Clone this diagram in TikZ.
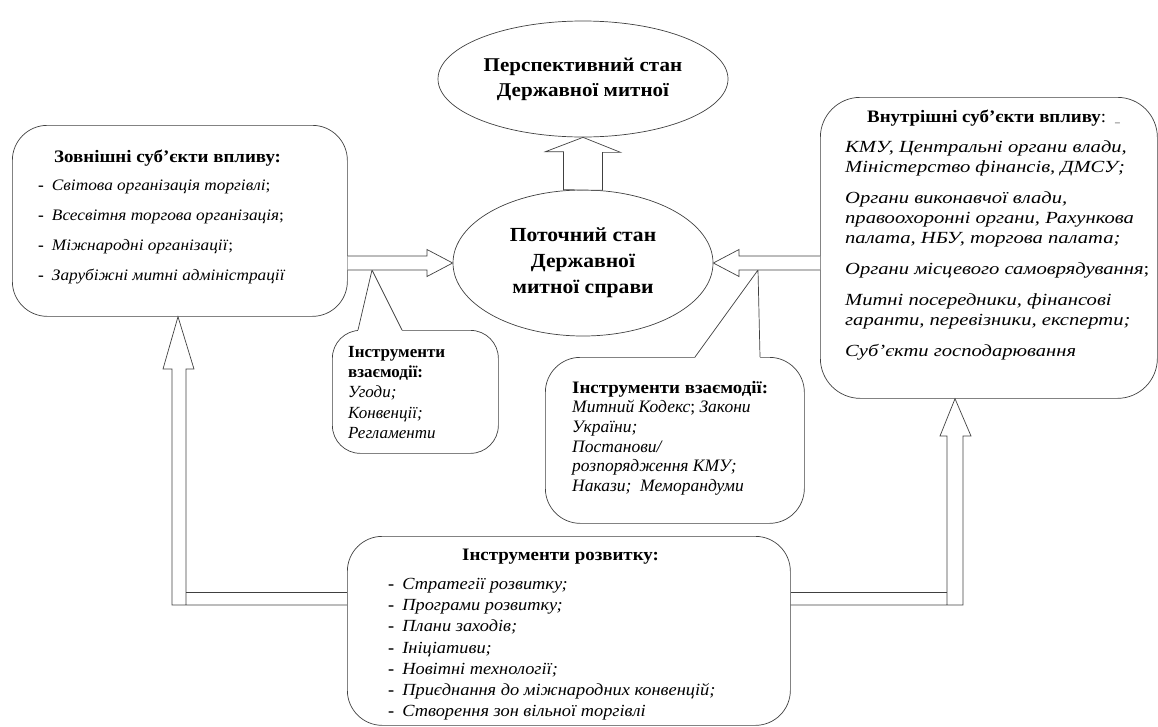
\documentclass[tikz,border=0pt]{standalone}
\usepackage{fontspec}
\setmainfont[FakeStretch=1.08]{Liberation Serif}
\newfontfamily\plainfont{Liberation Serif}
\newfontfamily\widefont[FakeStretch=1.21]{Liberation Serif}
\usetikzlibrary{shapes.geometric}

\newcommand{\listdash}[1]{{\upshape\bfseries -}\hspace{8pt}#1}

\tikzset{
  outline/.style={draw=black!75, line width=0.7pt},
  roundbox/.style={outline, rectangle, rounded corners=#1, anchor=north west, inner sep=0pt},
  roundbox/.default=35pt,
  stateoval/.style={outline, ellipse, inner sep=0pt, align=center},
  blockarrow/.style={outline, fill=white, line join=miter},
  boxtitle/.style={anchor=base west, inner sep=0pt, font=\fontsize{17.5}{20}\selectfont\bfseries},
  boxtext/.style={anchor=north west, inner sep=0pt, align=left},
}

\begin{document}
\begin{tikzpicture}[x=1pt, y=-1pt]
  \useasboundingbox (0,0) rectangle (1158,726);

  % states of the customs service
  \node[stateoval, minimum width=290pt, minimum height=116pt, font=\fontsize{19.5}{25}\selectfont\bfseries] (persp) at (583,79) {Перспективний стан\\Державної митної};
  \node[stateoval, minimum width=260pt, minimum height=146pt, font=\fontsize{20}{26}\selectfont\bfseries] (curr) at (583,263) {Поточний стан\\Державної\\митної справи};

  % boxes
  \node[roundbox, minimum width=335pt, minimum height=191pt] (extbox) at (12,125) {};
  \node[roundbox=40pt, minimum width=337pt, minimum height=301pt] (intbox) at (820,97) {};
  \node[roundbox=28pt, minimum width=166pt, minimum height=123pt] (ia1box) at (332,330) {};
  \node[roundbox, minimum width=259pt, minimum height=166pt] (ia2box) at (545,357) {};
  \node[roundbox, minimum width=443pt, minimum height=189pt] (devbox) at (347,536) {};

  % external subjects
  \node[boxtitle] (exttitle) at (54,162) {Зовнішні суб’єкти впливу:};
  \node[boxtext, font=\fontsize{16}{30}\selectfont\itshape] (extlist) at (38,180) {%
    \listdash{Світова організація торгівлі\textup{;}}\\
    \listdash{Всесвітня торгова організація\textup{;}}\\
    \listdash{Міжнародні організації\textup{;}}\\
    \listdash{Зарубіжні митні адміністрації}};

  % internal subjects
  \node[boxtitle] (inttitle) at (867,122) {Внутрішні суб’єкти впливу\textmd{:}\hspace{9pt}{\mdseries\fontsize{9}{9}\selectfont\_}};
  \node[boxtext, font=\widefont\fontsize{17}{20}\selectfont\itshape] (intlist) at (845,140) {%
    КМУ, Центральні органи влади,\\
    Міністерство фінансів, ДМСУ;\\[11pt]
    Органи виконавчої влади,\\
    правоохоронні органи, Рахункова\\
    палата, НБУ, торгова палата;\\[11pt]
    Органи місцевого самоврядування\textup{;}\\[11pt]
    Митні посередники, фінансові\\
    гаранти, перевізники, експерти;\\[11pt]
    Суб’єкти господарювання};

  % instruments of interaction
  \node[boxtext, font=\plainfont\fontsize{17}{20.3}\selectfont] (ia1text) at (348,346) {%
    \textbf{Інструменти}\\
    \textbf{взаємодії:}\\
    \textit{Угоди;}\\
    \textit{Конвенції;}\\
    \textit{Регламенти}};
  \node[boxtext, font=\plainfont\fontsize{17.5}{19.6}\selectfont] (ia2text) at (572,381) {%
    {\normalfont\fontsize{17.5}{19.6}\selectfont\bfseries Інструменти взаємодії:}\\
    \textit{Митний Кодекс\textup{;} Закони}\\
    \textit{України;}\\
    \textit{Постанови/}\\
    \textit{розпорядження КМУ;}\\
    \textit{Накази;\ \ Меморандуми}};

  % instruments of development
  \node[boxtitle] (devtitle) at (462,560) {Інструменти розвитку:};
  \node[boxtext, font=\fontsize{17}{21.2}\selectfont\itshape] (devlist) at (388,578) {%
    \listdash{Стратегії розвитку;}\\
    \listdash{Програми розвитку;}\\
    \listdash{Плани заходів;}\\
    \listdash{Ініціативи;}\\
    \listdash{Новітні технології;}\\
    \listdash{Приєднання до міжнародних конвенцій;}\\
    \listdash{Створення зон вільної торгівлі}};

  % callout pointers
  \fill[white] (358,331) -- (372,270) -- (402,331) -- cycle;
  \draw[outline] (ia1box.north -| 358,0) -- (372,270) -- (ia1box.north -| 402,0);
  \fill[white] (695,358) -- (758,270) -- (760,358) -- cycle;
  \draw[outline] (ia2box.north -| 695,0) -- (758,270) -- (ia2box.north -| 760,0);

  % block arrows
  \draw[blockarrow] (curr.north) ++(-19.5,0) -- ++(0,-38) -- ++(-18,0) -- (persp.south) -- ++(37.5,15) -- ++(-18,0) -- ++(0,38) -- cycle;
  \draw[blockarrow] (extbox.east |- 0,256) -- (427,256) -- (427,249.5) -- (curr.west) -- (427,276.5) -- (427,270) -- (extbox.east |- 0,270);
  \draw[blockarrow] (intbox.west |- 0,256) -- (739,256) -- (739,249.5) -- (curr.east) -- (739,276.5) -- (739,270) -- (intbox.west |- 0,270);

  % development feeds both subject groups
  \draw[outline] (devbox.west |- 0,605) -- (172,605) -- (172,369) -- (163,369) -- (extbox.south -| 178,0) -- (194,369) -- (186,369) -- (186,605);
  \draw[outline] (186,592) -- (devbox.west |- 0,592);
  \draw[outline] (devbox.east |- 0,605) -- (963,605) -- (963,436) -- (971,436) -- (intbox.south -| 955,0) -- (940,436) -- (947,436) -- (947,605);
  \draw[outline] (947,592) -- (devbox.east |- 0,592);
\end{tikzpicture}
\end{document}
